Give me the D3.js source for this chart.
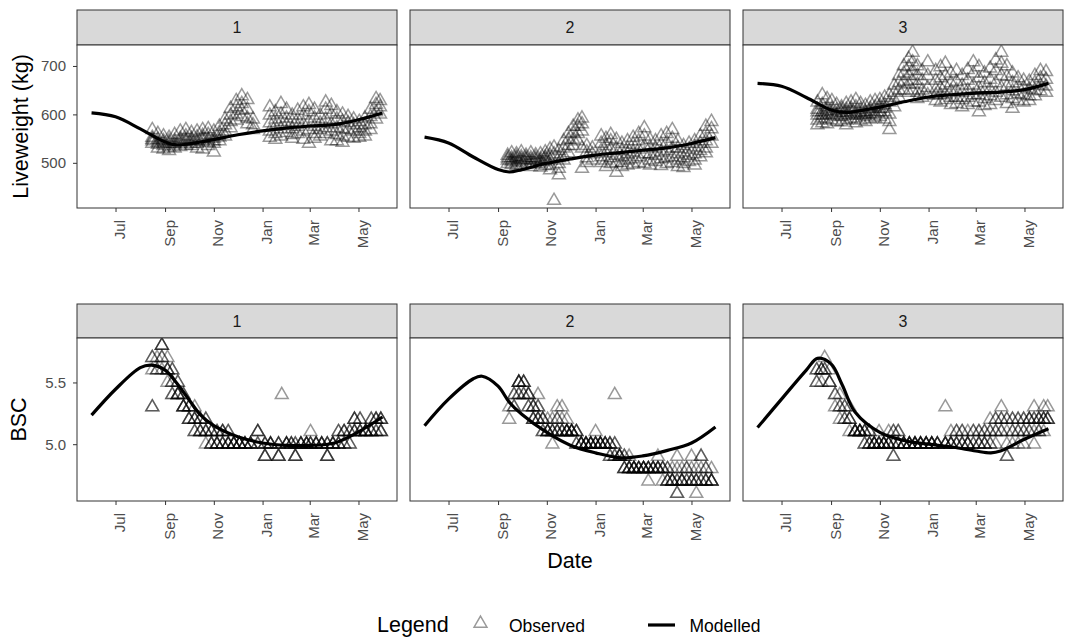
<!DOCTYPE html>
<html>
<head>
<meta charset="utf-8">
<script src="https://cdn.jsdelivr.net/npm/d3@7"></script>
<style>
  body { margin: 0; background: #fff; }
  svg { font-family: 'Liberation Sans', Arial, Helvetica, sans-serif; }
</style>
</head>
<body>
<svg id="chart" width="1066" height="637"></svg>
<script>
// facet labels
let groups = ['1', '2', '3']

// modelled liveweight (kg): [date, value]
let lwModel1 = [
  ['2018-06-01', 603], ['2018-07-01', 595], ['2018-08-01', 570], ['2018-09-01', 543],
  ['2018-09-15', 537], ['2018-10-01', 539], ['2018-11-01', 548], ['2018-12-01', 558],
  ['2019-01-01', 566], ['2019-02-01', 572], ['2019-03-01', 576], ['2019-04-01', 579],
  ['2019-05-01', 589], ['2019-05-31', 603]
]
let lwModel2 = [
  ['2018-06-01', 553], ['2018-07-01', 541], ['2018-08-01', 512], ['2018-09-01', 486],
  ['2018-09-15', 481], ['2018-10-01', 486], ['2018-11-01', 499], ['2018-12-01', 508],
  ['2019-01-01', 516], ['2019-02-01', 521], ['2019-03-01', 526], ['2019-04-01', 531],
  ['2019-05-01', 540], ['2019-05-31', 552]
]
let lwModel3 = [
  ['2018-06-01', 664], ['2018-07-01', 658], ['2018-08-01', 635], ['2018-09-01', 609],
  ['2018-09-20', 604], ['2018-10-01', 606], ['2018-11-01', 615], ['2018-12-01', 626],
  ['2019-01-01', 636], ['2019-02-01', 641], ['2019-03-01', 644], ['2019-04-01', 646],
  ['2019-05-01', 651], ['2019-05-31', 664]
]

// modelled body condition score
let bscModel1 = [
  ['2018-06-01', 5.235], ['2018-07-01', 5.445], ['2018-08-01', 5.62], ['2018-08-15', 5.64],
  ['2018-09-01', 5.6], ['2018-09-15', 5.5], ['2018-10-01', 5.36], ['2018-10-15', 5.24],
  ['2018-11-01', 5.15], ['2018-12-01', 5.06], ['2019-01-01', 5.01], ['2019-02-01', 4.99],
  ['2019-03-01', 4.99], ['2019-04-01', 5.01], ['2019-05-01', 5.1], ['2019-05-31', 5.22]
]
let bscModel2 = [
  ['2018-06-01', 5.15], ['2018-07-01', 5.365], ['2018-08-01', 5.53], ['2018-08-12', 5.55],
  ['2018-09-01', 5.47], ['2018-09-15', 5.34], ['2018-10-01', 5.24], ['2018-11-01', 5.095],
  ['2018-12-01', 4.99], ['2019-01-01', 4.93], ['2019-02-01', 4.89], ['2019-03-01', 4.905],
  ['2019-04-01', 4.95], ['2019-05-01', 5.01], ['2019-05-31', 5.14]
]
let bscModel3 = [
  ['2018-06-01', 5.135], ['2018-07-01', 5.365], ['2018-08-01', 5.6], ['2018-08-15', 5.695],
  ['2018-09-01', 5.65], ['2018-09-15', 5.48], ['2018-10-01', 5.26], ['2018-11-01', 5.095],
  ['2018-12-01', 5.03], ['2019-01-01', 5.0], ['2019-02-01', 4.975], ['2019-03-01', 4.945],
  ['2019-03-20', 4.93], ['2019-04-01', 4.945], ['2019-05-01', 5.04], ['2019-05-31', 5.125]
]

// observed liveweight (kg): [date, animal values...]
let lwObs1 = [
  ['2018-08-16', 568, 552, 548, 545, 540], ['2018-08-23', 560, 548, 542, 538, 530],
  ['2018-08-30', 555, 545, 540, 535, 528], ['2018-09-06', 552, 545, 540, 532, 525],
  ['2018-09-13', 558, 545, 540, 536, 530], ['2018-09-20', 565, 550, 545, 540, 533],
  ['2018-09-27', 568, 555, 548, 543, 536], ['2018-10-04', 562, 550, 545, 540, 535],
  ['2018-10-11', 565, 553, 545, 540, 530], ['2018-10-18', 568, 556, 550, 545, 528],
  ['2018-10-25', 570, 558, 548, 542, 535], ['2018-11-01', 565, 550, 545, 540, 522],
  ['2018-11-08', 575, 562, 553, 545], ['2018-11-15', 590, 578, 565, 555],
  ['2018-11-22', 612, 598, 585, 572], ['2018-11-29', 628, 615, 600, 588],
  ['2018-12-06', 638, 622, 608, 595], ['2018-12-13', 630, 610, 592, 580],
  ['2018-12-20', 590, 578, 568], ['2019-01-10', 615, 598, 582, 565, 552],
  ['2019-01-17', 605, 590, 575, 560, 548], ['2019-01-24', 622, 600, 585, 570, 555],
  ['2019-01-31', 610, 592, 578, 562], ['2019-02-07', 598, 585, 570, 558, 550],
  ['2019-02-14', 608, 590, 575, 560], ['2019-02-21', 615, 598, 580, 565, 548],
  ['2019-02-28', 620, 605, 585, 568, 540], ['2019-03-07', 610, 592, 575, 560, 550],
  ['2019-03-14', 598, 582, 568, 555], ['2019-03-21', 625, 610, 590, 572, 560],
  ['2019-03-28', 618, 600, 580, 565, 545], ['2019-04-04', 605, 590, 572, 558, 545],
  ['2019-04-11', 600, 585, 570, 555, 542], ['2019-04-18', 595, 582, 568, 552],
  ['2019-04-25', 590, 578, 565, 550], ['2019-05-02', 585, 572, 560, 552],
  ['2019-05-09', 592, 578, 565, 555], ['2019-05-16', 610, 595, 580, 568],
  ['2019-05-23', 632, 620, 605, 590], ['2019-05-28', 628, 615, 600]
]
let lwObs2 = [
  ['2018-09-13', 515, 510, 505, 498], ['2018-09-18', 520, 510, 505, 502, 496],
  ['2018-09-24', 518, 512, 508, 500, 494], ['2018-09-30', 522, 512, 507, 503, 495],
  ['2018-10-06', 515, 510, 506, 498], ['2018-10-12', 520, 510, 505, 500, 492],
  ['2018-10-18', 516, 510, 505, 497], ['2018-10-24', 518, 508, 503, 499, 491],
  ['2018-10-30', 522, 512, 508, 503, 494], ['2018-11-05', 528, 515, 505, 495, 485],
  ['2018-11-10', 532, 518, 422], ['2018-11-16', 525, 510, 498, 488, 475],
  ['2018-11-22', 545, 530, 515, 505], ['2018-11-28', 560, 548, 535, 520],
  ['2018-12-04', 575, 562, 548, 535], ['2018-12-10', 588, 575, 560, 545],
  ['2018-12-15', 592, 580, 565, 530, 488], ['2018-12-21', 535, 522, 510, 500],
  ['2018-12-28', 530, 518, 505], ['2019-01-08', 555, 540, 525, 512, 500],
  ['2019-01-14', 550, 535, 520, 505, 492], ['2019-01-20', 558, 545, 528, 510, 498],
  ['2019-01-27', 548, 530, 515, 500, 480], ['2019-02-03', 540, 525, 512, 500, 492],
  ['2019-02-10', 545, 530, 518, 505, 495], ['2019-02-17', 552, 538, 522, 508, 497],
  ['2019-02-24', 560, 545, 528, 512, 500], ['2019-03-03', 572, 555, 535, 518, 498],
  ['2019-03-10', 548, 532, 518, 505, 495], ['2019-03-17', 545, 530, 515, 502],
  ['2019-03-24', 555, 538, 522, 508, 494], ['2019-03-31', 560, 542, 525, 510, 498],
  ['2019-04-07', 568, 550, 530, 512, 500], ['2019-04-14', 545, 530, 518, 505, 492],
  ['2019-04-21', 535, 522, 510, 498, 490], ['2019-04-28', 540, 528, 515, 502],
  ['2019-05-05', 545, 532, 518, 505, 495], ['2019-05-12', 555, 540, 525, 512],
  ['2019-05-19', 575, 560, 545, 530, 520], ['2019-05-26', 585, 570, 555, 540]
]
let lwObs3 = [
  ['2018-08-15', 625, 610, 605, 598, 588, 578], ['2018-08-21', 640, 620, 605, 598, 592, 582],
  ['2018-08-27', 632, 615, 608, 600, 590, 580], ['2018-09-02', 628, 612, 605, 598, 588],
  ['2018-09-08', 620, 608, 600, 596, 585], ['2018-09-14', 615, 610, 604, 595, 584],
  ['2018-09-20', 622, 610, 604, 598, 588, 578], ['2018-09-26', 625, 612, 606, 600, 590],
  ['2018-10-02', 630, 615, 602, 598, 592, 582], ['2018-10-08', 622, 610, 604, 598, 588],
  ['2018-10-14', 618, 605, 600, 595, 585], ['2018-10-20', 625, 612, 606, 600, 590],
  ['2018-10-26', 628, 615, 602, 598, 592], ['2018-11-01', 630, 618, 612, 605, 595],
  ['2018-11-07', 635, 620, 612, 605, 590], ['2018-11-13', 640, 625, 600, 585, 568],
  ['2018-11-19', 660, 645, 630, 615], ['2018-11-25', 680, 665, 650, 635],
  ['2018-12-01', 700, 685, 668, 650], ['2018-12-07', 715, 698, 680, 662, 645],
  ['2018-12-12', 728, 708, 690, 670, 650], ['2018-12-18', 700, 680, 662, 645, 632],
  ['2018-12-24', 690, 670, 650, 635], ['2018-12-31', 708, 680, 655, 640],
  ['2019-01-10', 690, 670, 652, 640, 628], ['2019-01-16', 698, 675, 655, 640, 625],
  ['2019-01-22', 705, 680, 660, 642, 630], ['2019-01-29', 685, 665, 648, 635, 620],
  ['2019-02-05', 690, 668, 650, 635, 622], ['2019-02-12', 680, 660, 645, 630, 615],
  ['2019-02-19', 692, 670, 650, 635, 620], ['2019-02-26', 708, 685, 660, 640, 625],
  ['2019-03-05', 698, 675, 655, 640, 625, 605], ['2019-03-12', 685, 665, 648, 632, 618],
  ['2019-03-19', 695, 672, 652, 638, 620], ['2019-03-26', 712, 690, 665, 645, 628],
  ['2019-04-02', 728, 705, 680, 655, 635], ['2019-04-09', 700, 678, 658, 640, 622],
  ['2019-04-16', 685, 665, 648, 632, 612], ['2019-04-23', 675, 658, 642, 628],
  ['2019-04-30', 670, 655, 640, 625], ['2019-05-07', 668, 652, 638, 628],
  ['2019-05-14', 680, 665, 650, 638], ['2019-05-21', 690, 675, 660, 648],
  ['2019-05-28', 688, 672, 658, 645]
]

// observed body condition score: [date, animal values...]
let bscObs1 = [
  ['2018-08-16', 5.7, 5.7, 5.6, 5.3, 5.3], ['2018-08-22', 5.7, 5.6, 5.6],
  ['2018-08-28', 5.8, 5.8, 5.8, 5.7, 5.7, 5.6], ['2018-09-04', 5.7, 5.6, 5.6, 5.6, 5.5],
  ['2018-09-10', 5.6, 5.6, 5.5, 5.5, 5.4, 5.4], ['2018-09-17', 5.5, 5.5, 5.4, 5.4, 5.4, 5.4],
  ['2018-09-24', 5.4, 5.4, 5.3, 5.3, 5.3, 5.3], ['2018-10-01', 5.3, 5.3, 5.3, 5.2, 5.2, 5.2],
  ['2018-10-08', 5.3, 5.2, 5.2, 5.2, 5.1, 5.1], ['2018-10-15', 5.2, 5.2, 5.2, 5.1, 5.1, 5.1],
  ['2018-10-22', 5.2, 5.2, 5.1, 5.1, 5.1, 5.0], ['2018-10-29', 5.1, 5.1, 5.1, 5.0, 5.0, 5.0],
  ['2018-11-05', 5.1, 5.1, 5.0, 5.0, 5.0, 5.0], ['2018-11-12', 5.1, 5.1, 5.1, 5.0, 5.0, 5.0],
  ['2018-11-19', 5.1, 5.1, 5.0, 5.0, 5.0, 5.0], ['2018-11-26', 5.0, 5.0, 5.0, 5.0, 5.0],
  ['2018-12-03', 5.0, 5.0, 5.0, 5.0, 5.0], ['2018-12-10', 5.0, 5.0, 5.0, 5.0],
  ['2018-12-17', 5.0, 5.0, 5.0, 5.0], ['2018-12-26', 5.1, 5.1, 5.1, 5.0, 5.0],
  ['2019-01-04', 5.0, 5.0, 5.0, 4.9, 4.9, 4.9], ['2019-01-11', 5.0, 5.0, 5.0, 5.0],
  ['2019-01-21', 5.0, 5.0, 5.0, 4.9, 4.9, 4.9], ['2019-01-25', 5.4],
  ['2019-01-31', 5.0, 5.0, 5.0, 5.0], ['2019-02-06', 5.0, 5.0, 5.0],
  ['2019-02-11', 5.0, 5.0, 4.9, 4.9, 4.9], ['2019-02-18', 5.0, 5.0, 5.0, 5.0],
  ['2019-02-25', 5.0, 5.0, 5.0, 5.0], ['2019-03-02', 5.1, 5.0, 5.0, 5.0],
  ['2019-03-09', 5.0, 5.0, 5.0, 5.0], ['2019-03-16', 5.0, 5.0, 5.0, 5.0],
  ['2019-03-23', 5.0, 5.0, 5.0, 4.9, 4.9, 4.9], ['2019-03-30', 5.0, 5.0, 5.0, 5.0],
  ['2019-04-06', 5.1, 5.1, 5.0, 5.0, 5.0], ['2019-04-13', 5.1, 5.1, 5.1, 5.0, 5.0],
  ['2019-04-20', 5.1, 5.1, 5.0, 5.0], ['2019-04-26', 5.2, 5.2, 5.2, 5.1, 5.1, 5.1],
  ['2019-05-03', 5.2, 5.2, 5.1, 5.1, 5.1], ['2019-05-10', 5.1, 5.1, 5.1, 5.1, 5.1],
  ['2019-05-17', 5.2, 5.2, 5.1, 5.1, 5.1], ['2019-05-23', 5.2, 5.2, 5.2, 5.1, 5.1],
  ['2019-05-29', 5.2, 5.2, 5.2, 5.1, 5.1, 5.1]
]
let bscObs2 = [
  ['2018-09-15', 5.2, 5.3], ['2018-09-21', 5.4, 5.4, 5.3, 5.3],
  ['2018-09-27', 5.5, 5.5, 5.5, 5.5, 5.4, 5.4], ['2018-10-03', 5.5, 5.5, 5.5, 5.4, 5.4],
  ['2018-10-09', 5.4, 5.4, 5.4, 5.3, 5.3], ['2018-10-15', 5.3, 5.3, 5.3, 5.2, 5.2, 5.2],
  ['2018-10-21', 5.4, 5.3, 5.3, 5.2, 5.2, 5.2], ['2018-10-27', 5.2, 5.2, 5.2, 5.1, 5.1],
  ['2018-11-02', 5.2, 5.1, 5.1, 5.1, 5.1], ['2018-11-08', 5.2, 5.1, 5.1, 5.1, 5.0],
  ['2018-11-14', 5.3, 5.2, 5.2, 5.1, 5.1, 5.1], ['2018-11-20', 5.3, 5.2, 5.1, 5.1, 5.1],
  ['2018-11-26', 5.2, 5.1, 5.1, 5.1, 5.1, 5.1], ['2018-12-02', 5.1, 5.1, 5.1, 5.1, 5.1],
  ['2018-12-08', 5.1, 5.1, 5.1, 5.0, 5.0], ['2018-12-14', 5.0, 5.0, 5.0, 5.0, 5.0],
  ['2018-12-20', 5.0, 5.0, 5.0, 5.0, 5.0], ['2018-12-26', 5.0, 5.0, 5.0, 5.0, 5.0],
  ['2019-01-01', 5.1, 5.0, 5.0, 5.0, 5.0], ['2019-01-07', 5.0, 5.0, 5.0, 5.0, 5.0],
  ['2019-01-13', 5.0, 5.0, 5.0, 5.0], ['2019-01-19', 5.0, 5.0, 5.0, 4.9, 4.9],
  ['2019-01-25', 5.4, 5.0, 5.0, 4.9, 4.9], ['2019-01-31', 4.9, 4.9, 4.9, 4.9],
  ['2019-02-06', 4.9, 4.9, 4.8, 4.8, 4.8], ['2019-02-12', 4.9, 4.8, 4.8, 4.8, 4.8],
  ['2019-02-18', 4.8, 4.8, 4.8, 4.8, 4.8], ['2019-02-24', 4.8, 4.8, 4.8, 4.8],
  ['2019-03-02', 4.8, 4.8, 4.8, 4.8, 4.8], ['2019-03-08', 4.8, 4.8, 4.8, 4.8, 4.7],
  ['2019-03-14', 4.8, 4.8, 4.8, 4.8], ['2019-03-20', 4.9, 4.8, 4.8, 4.8, 4.8],
  ['2019-03-26', 4.8, 4.8, 4.8, 4.7], ['2019-04-01', 4.8, 4.8, 4.7, 4.7, 4.7],
  ['2019-04-07', 4.8, 4.7, 4.7, 4.7, 4.7], ['2019-04-13', 4.9, 4.8, 4.7, 4.7, 4.6, 4.6],
  ['2019-04-19', 4.8, 4.7, 4.7, 4.7, 4.7], ['2019-04-25', 4.8, 4.8, 4.7, 4.7],
  ['2019-05-01', 4.9, 4.8, 4.7, 4.7, 4.7], ['2019-05-07', 4.8, 4.7, 4.7, 4.7, 4.6],
  ['2019-05-13', 4.9, 4.9, 4.8, 4.7, 4.7], ['2019-05-19', 4.8, 4.8, 4.7, 4.7, 4.7],
  ['2019-05-26', 4.8, 4.7, 4.7, 4.7, 4.7]
]
let bscObs3 = [
  ['2018-08-14', 5.6, 5.6, 5.5, 5.5], ['2018-08-20', 5.6, 5.6, 5.6, 5.5],
  ['2018-08-24', 5.7, 5.6, 5.6], ['2018-08-30', 5.6, 5.5, 5.5, 5.5],
  ['2018-09-06', 5.4, 5.4, 5.3], ['2018-09-12', 5.4, 5.3, 5.3, 5.2],
  ['2018-09-18', 5.3, 5.3, 5.2, 5.2], ['2018-09-24', 5.3, 5.2, 5.2, 5.2, 5.1],
  ['2018-10-01', 5.1, 5.1, 5.1, 5.1, 5.1], ['2018-10-07', 5.1, 5.1, 5.1, 5.1, 5.1],
  ['2018-10-13', 5.1, 5.1, 5.1, 5.0, 5.0], ['2018-10-19', 5.1, 5.1, 5.0, 5.0, 5.0],
  ['2018-10-25', 5.0, 5.0, 5.0, 5.0, 5.0], ['2018-10-31', 5.1, 5.0, 5.0, 5.0, 5.0],
  ['2018-11-06', 5.0, 5.0, 5.0, 5.0, 5.0], ['2018-11-12', 5.1, 5.0, 5.0, 5.0, 5.0],
  ['2018-11-18', 5.1, 5.1, 5.0, 5.0, 4.9, 4.9], ['2018-11-24', 5.1, 5.1, 5.0, 5.0, 5.0],
  ['2018-12-01', 5.0, 5.0, 5.0, 5.0, 5.0], ['2018-12-08', 5.0, 5.0, 5.0, 5.0, 5.0],
  ['2018-12-15', 5.0, 5.0, 5.0, 5.0, 5.0], ['2018-12-22', 5.0, 5.0, 5.0, 5.0, 5.0],
  ['2018-12-29', 5.0, 5.0, 5.0, 5.0, 5.0], ['2019-01-05', 5.0, 5.0, 5.0, 5.0, 5.0],
  ['2019-01-12', 5.0, 5.0, 5.0, 5.0], ['2019-01-22', 5.3, 5.0, 5.0, 5.0, 5.0],
  ['2019-01-29', 5.1, 5.0, 5.0, 5.0, 5.0], ['2019-02-05', 5.1, 5.1, 5.0, 5.0, 5.0],
  ['2019-02-12', 5.1, 5.1, 5.0, 5.0, 5.0], ['2019-02-19', 5.1, 5.0, 5.0, 5.0, 5.0],
  ['2019-02-26', 5.1, 5.1, 5.0, 5.0], ['2019-03-05', 5.1, 5.1, 5.0, 5.0, 5.0],
  ['2019-03-12', 5.1, 5.1, 5.0, 5.0, 5.0], ['2019-03-19', 5.2, 5.1, 5.1, 5.0, 5.0],
  ['2019-03-26', 5.2, 5.2, 5.1, 5.1, 5.0], ['2019-04-02', 5.3, 5.2, 5.2, 5.1, 5.1],
  ['2019-04-09', 5.2, 5.2, 5.1, 5.0, 4.9, 4.9], ['2019-04-16', 5.2, 5.2, 5.1, 5.1, 5.0],
  ['2019-04-23', 5.2, 5.2, 5.1, 5.1, 5.0], ['2019-04-30', 5.2, 5.2, 5.1, 5.1, 5.0],
  ['2019-05-07', 5.2, 5.2, 5.2, 5.1, 5.1], ['2019-05-13', 5.3, 5.2, 5.2, 5.1, 5.0],
  ['2019-05-19', 5.2, 5.2, 5.2, 5.1, 5.1], ['2019-05-25', 5.3, 5.2, 5.2, 5.2, 5.1],
  ['2019-05-30', 5.3, 5.2, 5.2, 5.2]
]

// y tick values
let lwTicks = [500, 600, 700]
let bscTicks = [5.0, 5.5]

// layout
let parseDate = d3.timeParse('%Y-%m-%d')
let panelLeft = [77, 410, 743]
let panelWidth = 320
let rows = [
  {
    title: 'Liveweight (kg)', obs: [lwObs1, lwObs2, lwObs3], model: [lwModel1, lwModel2, lwModel3],
    ticks: lwTicks, format: d3.format('d'), stripTop: 10, top: 45, bottom: 208, titleX: 27.5
  },
  {
    title: 'BSC', obs: [bscObs1, bscObs2, bscObs3], model: [bscModel1, bscModel2, bscModel3],
    ticks: bscTicks, format: d3.format('.1f'), stripTop: 304, top: 338, bottom: 501, titleX: 26
  }
]

let svg = d3.select('#chart')
let triangle = d3.symbol().type(d3.symbolTriangle).size(72)
let pointOpacity = 0.4

/**
 * @param {Array} ext [min, max]
 * @returns {Array} range padded by 5% each side (ggplot default)
 */
function expand(ext) {
  let pad = (ext[1] - ext[0]) * 0.05
  return [ext[0] - pad, ext[1] + pad]
}

function obsPoints(list) {
  return list.flatMap(r => r.slice(1).map(v => ({ date: parseDate(r[0]), value: v })))
}

function modelPoints(list) {
  return list.map(r => ({ date: parseDate(r[0]), value: r[1] }))
}

// shared x domain from modelled series
let allDates = rows.flatMap(r => r.model.flatMap(modelPoints)).map(d => +d.date)
let xDomain = expand(d3.extent(allDates)).map(t => new Date(t))

rows.forEach((row, ri) => {
  let vals = [
    ...row.obs.flatMap(obsPoints),
    ...row.model.flatMap(modelPoints)
  ].map(d => d.value)
  let y = d3.scaleLinear().domain(expand(d3.extent(vals))).range([row.bottom, row.top])

  groups.forEach((grp, i) => {
    let x0 = panelLeft[i]
    let x = d3.scaleTime().domain(xDomain).range([x0, x0 + panelWidth])
    let g = svg.append('g')

    // strip
    g.append('rect')
      .attr('x', x0).attr('y', row.stripTop)
      .attr('width', panelWidth).attr('height', row.top - row.stripTop)
      .attr('fill', '#D9D9D9').attr('stroke', '#333333').attr('stroke-width', 1)
    g.append('text')
      .attr('x', x0 + panelWidth / 2).attr('y', (row.stripTop + row.top) / 2)
      .attr('dy', '0.36em').attr('text-anchor', 'middle')
      .attr('font-size', 16).attr('fill', '#1A1A1A')
      .text(grp)

    // panel background
    g.append('rect')
      .attr('x', x0).attr('y', row.top)
      .attr('width', panelWidth).attr('height', row.bottom - row.top)
      .attr('fill', '#fff')

    let clipId = `clip-${ri}-${i}`
    g.append('clipPath').attr('id', clipId)
      .append('rect')
      .attr('x', x0).attr('y', row.top)
      .attr('width', panelWidth).attr('height', row.bottom - row.top)

    let plot = g.append('g').attr('clip-path', `url(#${clipId})`)

    plot.selectAll('path.obs')
      .data(obsPoints(row.obs[i]))
      .join('path')
      .attr('class', 'obs')
      .attr('d', triangle)
      .attr('transform', d => `translate(${x(d.date)},${y(d.value)})`)
      .attr('fill', 'none')
      .attr('stroke', '#000')
      .attr('stroke-opacity', pointOpacity)
      .attr('stroke-width', 1.5)

    let line = d3.line()
      .x(d => x(d.date))
      .y(d => y(d.value))
      .curve(d3.curveCatmullRom.alpha(0.5))

    plot.append('path')
      .datum(modelPoints(row.model[i]))
      .attr('d', line)
      .attr('fill', 'none')
      .attr('stroke', '#000')
      .attr('stroke-width', 3.2)

    // panel border
    g.append('rect')
      .attr('x', x0).attr('y', row.top)
      .attr('width', panelWidth).attr('height', row.bottom - row.top)
      .attr('fill', 'none').attr('stroke', '#333333').attr('stroke-width', 1)

    // x axis
    let xa = g.append('g')
      .attr('transform', `translate(0,${row.bottom})`)
      .call(
        d3.axisBottom(x)
          .ticks(d3.timeMonth.every(2))
          .tickFormat(d3.timeFormat('%b'))
          .tickSize(4)
      )
    xa.select('.domain').remove()
    xa.selectAll('.tick line').attr('stroke', '#333333').attr('stroke-width', 1)
    xa.selectAll('.tick text')
      .attr('transform', 'rotate(-90)')
      .attr('text-anchor', 'end')
      .attr('x', -12)
      .attr('y', 9)
      .attr('dy', 0)
      .attr('font-size', 15)
      .attr('fill', '#4D4D4D')

    // y axis on first column only
    if (i === 0) {
      let ya = g.append('g')
        .attr('transform', `translate(${x0},0)`)
        .call(d3.axisLeft(y).tickValues(row.ticks).tickFormat(row.format).tickSize(4).tickPadding(7))
      ya.select('.domain').remove()
      ya.selectAll('.tick line').attr('stroke', '#333333').attr('stroke-width', 1)
      ya.selectAll('.tick text').attr('font-size', 15).attr('fill', '#4D4D4D')
    }
  })

  // y axis title
  svg.append('text')
    .attr('transform', `translate(${row.titleX},${(row.top + row.bottom) / 2}) rotate(-90)`)
    .attr('text-anchor', 'middle')
    .attr('font-size', 21.5)
    .attr('fill', '#000')
    .text(row.title)
})

// x axis title
svg.append('text')
  .attr('x', (panelLeft[0] + panelLeft[2] + panelWidth) / 2)
  .attr('y', 568)
  .attr('text-anchor', 'middle')
  .attr('font-size', 21.5)
  .text('Date')

// legend
let legend = svg.append('g')
legend.append('text').attr('x', 377).attr('y', 632).attr('font-size', 21.5).text('Legend')
legend.append('path')
  .attr('d', triangle)
  .attr('transform', 'translate(480.5,623.5)')
  .attr('fill', 'none').attr('stroke', '#000')
  .attr('stroke-opacity', pointOpacity).attr('stroke-width', 1.5)
legend.append('text').attr('x', 509).attr('y', 632).attr('font-size', 17.5).text('Observed')
legend.append('line')
  .attr('x1', 648).attr('x2', 675).attr('y1', 625).attr('y2', 625)
  .attr('stroke', '#000').attr('stroke-width', 3.2)
legend.append('text').attr('x', 689.5).attr('y', 632).attr('font-size', 17.5).text('Modelled')
</script>
</body>
</html>
